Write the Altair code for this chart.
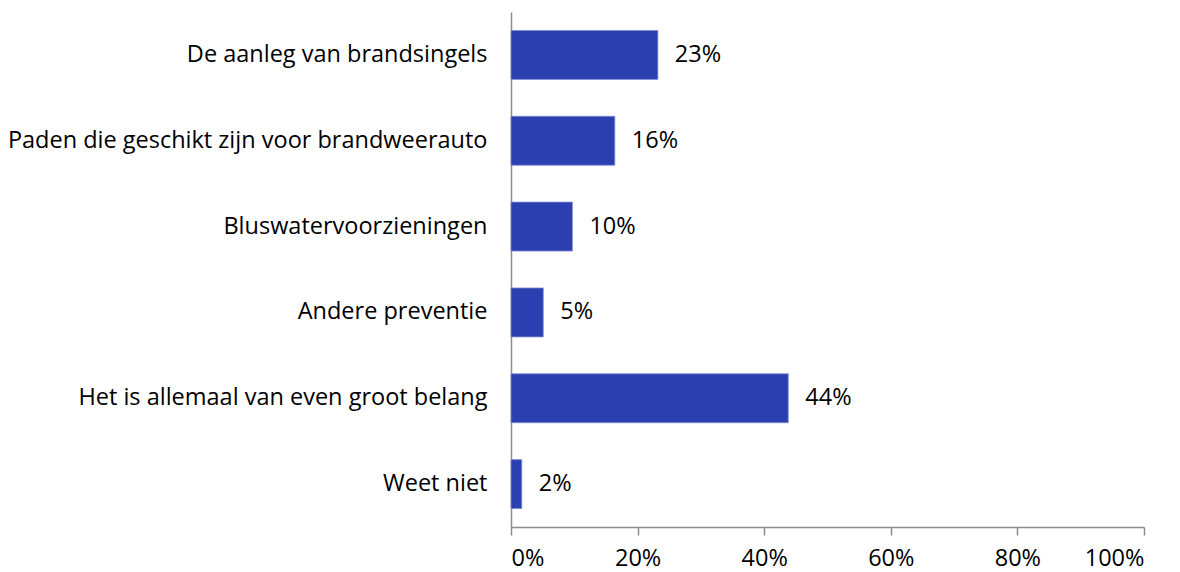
import altair as alt
import pandas as pd

categories = [
    "De aanleg van brandsingels",
    "Paden die geschikt zijn voor brandweerauto",
    "Bluswatervoorzieningen",
    "Andere preventie",
    "Het is allemaal van even groot belang",
    "Weet niet",
]
values = [23.2, 16.4, 9.7, 5.1, 43.8, 1.7]
labels = ["23%", "16%", "10%", "5%", "44%", "2%"]

df = pd.DataFrame({"cat": categories, "val": values, "lab": labels})

FONT = "Open Sans"
FS = 23.5

y_enc = alt.Y("cat:N", sort=categories, title=None,
              scale=alt.Scale(paddingInner=0.43, paddingOuter=0.215),
              axis=alt.Axis(ticks=False, labelFont=FONT, labelFontSize=FS, labelColor="#000000",
                            labelPadding=24, domainColor="#8c8c8c", domainWidth=1.5,
                            labelLimit=600))
x_enc = alt.X("val:Q", title=None,
              scale=alt.Scale(domain=[0, 100], nice=False),
              axis=alt.Axis(values=[0, 20, 40, 60, 80, 100], labelExpr="datum.value + '%'",
                            grid=False, tickSize=8, tickColor="#8c8c8c", tickWidth=1.5,
                            domainColor="#8c8c8c", domainWidth=1.5,
                            labelFont=FONT, labelFontSize=FS, labelColor="#000000",
                            labelPadding=11))

bars = alt.Chart(df).mark_bar(color="#2c3fb1", stroke="#7d8ad0", strokeWidth=0.8).encode(
    y=y_enc, x=x_enc)
text = alt.Chart(df).mark_text(align="left", baseline="middle", dx=17, font=FONT,
                               fontSize=FS, color="#000000").encode(
    y=alt.Y("cat:N", sort=categories), x="val:Q", text="lab:N")

chart = (bars + text).properties(
    width=633, height=515,
    autosize=alt.AutoSizeParams(type="none"),
    padding={"left": 503, "top": 4, "right": 28, "bottom": 52},
).configure(background="white", view=alt.ViewConfig(stroke="transparent", strokeWidth=0))

chart.save("out.html", embed_options={"renderer": "svg", "actions": False})
